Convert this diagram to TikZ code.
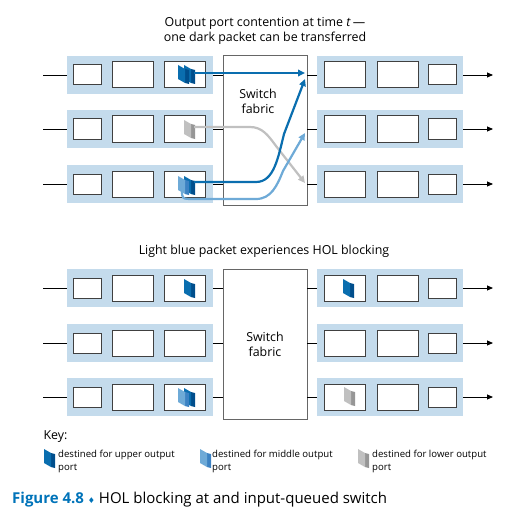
\documentclass[tikz,border=0pt]{standalone}
\usepackage{fontspec}
\setmainfont{Open Sans}
\newfontfamily\symfont{DejaVu Sans}
\usetikzlibrary{positioning,arrows.meta,calc}
\definecolor{band}{RGB}{196,219,236}
\definecolor{darkpkt}{RGB}{10,110,175}
\definecolor{darkside}{RGB}{0,78,140}
\definecolor{lightpkt}{RGB}{110,170,215}
\definecolor{lightside}{RGB}{60,130,195}
\definecolor{graypkt}{RGB}{192,192,192}
\definecolor{grayside}{RGB}{150,150,150}
\definecolor{capblue}{RGB}{0,115,185}
\tikzset{port/.style = {rectangle,fill=band,minimum width=146pt,minimum height=38pt,inner sep=0pt},
         buf/.style = {rectangle,draw=black!75,line width=1pt,fill=white,minimum width=41pt,minimum height=26pt,inner sep=0pt},
         sbuf/.style = {buf,minimum width=28pt,minimum height=20pt},
         fabric/.style = {rectangle,draw=black!60,line width=0.8pt,fill=white,minimum width=84pt,minimum height=150pt,inner sep=0pt},
         link/.style = {line width=0.9pt},
         flow/.style = {line width=2.2pt,-{Triangle[length=7pt,width=6.5pt]}},
         keytext/.style = {anchor=north west,align=left,inner sep=0pt,font=\fontsize{9.6}{13}\selectfont}}
% packet: position, front colour, side colour
\newcommand{\pkt}[3]{%
  \fill[#3] ($#1+(7,4)$) -- ++(4,1) -- ++(0,14) -- ++(-4,-1) -- cycle;
  \fill[#2] #1 -- ++(7,4) -- ++(0,14) -- ++(-7,-4) -- cycle;}

\begin{document}
\begin{tikzpicture}[x=1pt,y=-1pt,font=\fontsize{12.4}{15}\selectfont]
    \useasboundingbox (0,0) rectangle (528,519);

    % contention at time t
    \node[align=center] (titleA) at (265,31) {Output port contention at time \textit{t}\,---\\one dark packet can be transferred};
    \node[fabric] (fabA) at (265,130) {};
    \node[align=center] (swA) at (258,101) {Switch\\fabric};
    \foreach \r/\y in {1/75,2/129,3/184} {
        \node[port] (inA\r) at (140,\y) {};
        \node[sbuf] (iaA\r) at (87,\y) {};
        \node[buf] (ibA\r) at (132.5,\y) {};
        \node[buf] (icA\r) at (184.5,\y) {};
        \node[port] (outA\r) at (390,\y) {};
        \node[buf] (oaA\r) at (344.5,\y) {};
        \node[buf] (obA\r) at (397.5,\y) {};
        \node[sbuf] (ocA\r) at (442.5,\y) {};
        \coordinate (srcA\r) at (43,\y);
        \coordinate (dstA\r) at (493,\y);
        \draw[link] (srcA\r) -- (inA\r.west);
        \draw[link] (inA\r.east) -- (inA\r.east -| fabA.west);
        \draw[link] (outA\r.west -| fabA.east) -- (outA\r.west);
        \draw[link,-{Triangle[length=6pt,width=5pt]}] (outA\r.east) -- (dstA\r);
    }
    \pkt{(184,65)}{darkpkt}{darkside}
    \pkt{(178,65)}{darkpkt}{darkside}
    \pkt{(184,120)}{graypkt}{grayside}
    \pkt{(184,176)}{darkpkt}{darkside}
    \pkt{(178,176)}{lightpkt}{lightside}

    \coordinate (pA1) at (194,73);
    \coordinate (pA2) at (194,127);
    \coordinate (pA3) at (194,182);
    \coordinate (pA4) at (182,190);
    \coordinate (tA1) at (305,73);
    \coordinate (tA2) at (305,79);
    \coordinate (tA3) at (305,133);
    \coordinate (tA4) at (305,183);
    \draw[flow,graypkt] (pA2) -- (250,127) .. controls (262,127) and (268,135) .. (276,146) -- (tA4);
    \draw[flow,lightpkt] (pA4) .. controls (182,199) .. (194,199) -- (256,199) .. controls (271,199) and (277,186) .. (283,171) -- (tA3);
    \draw[flow,darkpkt] (pA1) -- (tA1);
    \draw[flow,darkpkt] (pA3) -- (256,182) .. controls (274,182) and (278,158) .. (284,134) -- (tA2);

    % HOL blocking
    \node (titleB) at (264,251) {Light blue packet experiences HOL blocking};
    \node[fabric] (fabB) at (265,344) {};
    \node[align=center] (swB) at (fabB.center) {Switch\\fabric};
    \foreach \r/\y in {1/288,2/343,3/397} {
        \node[port] (inB\r) at (140,\y) {};
        \node[sbuf] (iaB\r) at (87,\y) {};
        \node[buf] (ibB\r) at (132.5,\y) {};
        \node[buf] (icB\r) at (184.5,\y) {};
        \node[port] (outB\r) at (390,\y) {};
        \node[buf] (oaB\r) at (344.5,\y) {};
        \node[buf] (obB\r) at (397.5,\y) {};
        \node[sbuf] (ocB\r) at (442.5,\y) {};
        \coordinate (srcB\r) at (43,\y);
        \coordinate (dstB\r) at (493,\y);
        \draw[link] (srcB\r) -- (inB\r.west);
        \draw[link] (inB\r.east) -- (inB\r.east -| fabB.west);
        \draw[link] (outB\r.west -| fabB.east) -- (outB\r.west);
        \draw[link,-{Triangle[length=6pt,width=5pt]}] (outB\r.east) -- (dstB\r);
    }
    \pkt{(184,279)}{darkpkt}{darkside}
    \pkt{(343,279)}{darkpkt}{darkside}
    \pkt{(344,387)}{graypkt}{grayside}
    \pkt{(184,388)}{darkpkt}{darkside}
    \pkt{(178,388)}{lightpkt}{lightside}

    % key
    \node[anchor=west] (key) at (40,437) {Key:};
    \pkt{(44,449)}{darkpkt}{darkside}
    \pkt{(200,449)}{lightpkt}{lightside}
    \pkt{(358,449)}{graypkt}{grayside}
    \node[keytext] (keyUp) at (58,450) {destined for upper output\\port};
    \node[keytext] (keyMid) at (212,450) {destined for middle output\\port};
    \node[keytext] (keyLow) at (372,450) {destined for lower output\\port};

    \node[anchor=west,inner sep=0pt,font=\fontsize{15}{17}\selectfont] (caption) at (12,500) {\textcolor{capblue}{\bfseries Figure 4.8} {\symfont\fontsize{8}{9}\selectfont\textcolor{capblue}{♦}} HOL blocking at and input-queued switch};
\end{tikzpicture}
\end{document}
